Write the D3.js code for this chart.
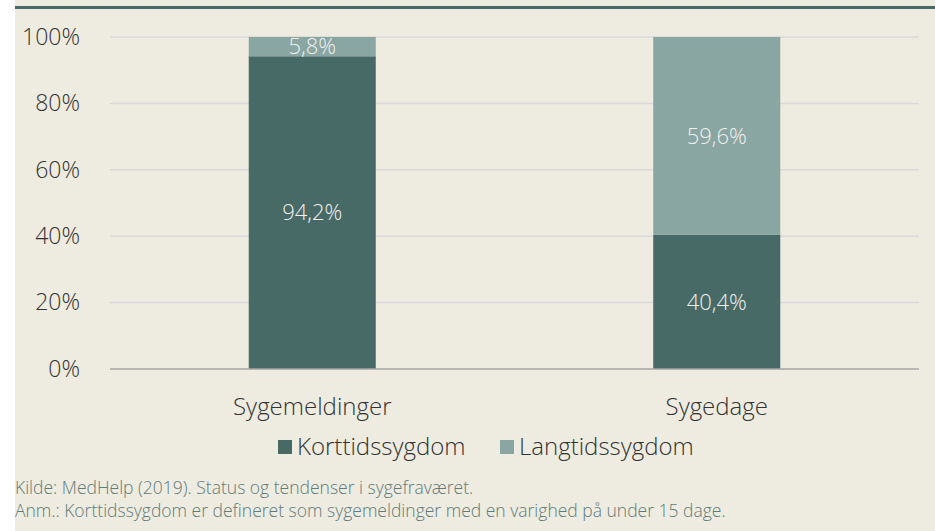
<!DOCTYPE html>
<html>
<head>
<meta charset="utf-8">
<script src="https://cdn.jsdelivr.net/npm/d3@7"></script>
<style>
  body { margin: 0; background: #fff; }
  svg { display: block; font-family: "Open Sans", "Noto Sans", sans-serif; font-weight: 300; }
</style>
</head>
<body>
<svg id="chart"></svg>
<script>
const categories = ['Sygemeldinger', 'Sygedage'];
const seriesNames = ['Korttidssygdom', 'Langtidssygdom'];
const korttid = [94.2, 40.4];
const langtid = [5.8, 59.6];
const yTicks = [0, 20, 40, 60, 80, 100];
const notes = [
  'Kilde: MedHelp (2019). Status og tendenser i sygefraværet.',
  'Anm.: Korttidssygdom er defineret som sygemeldinger med en varighed på under 15 dage.'
];

const size = { width: 935, height: 531 };
const margin = { left: 110, right: 16, top: 37, bottom: 162 };
const width = size.width - margin.left - margin.right;
const height = size.height - margin.top - margin.bottom;
const colors = ['#476a66', '#8aa6a3'];
const fmt = d => d.toFixed(1).replace('.', ',') + '%';

const svg = d3.select('#chart')
  .attr('width', size.width)
  .attr('height', size.height);

svg.append('rect')
  .attr('x', 15).attr('y', 0)
  .attr('width', size.width - 15).attr('height', size.height)
  .attr('fill', '#eeebe0');

svg.append('rect')
  .attr('x', 15).attr('y', 6)
  .attr('width', size.width - 15).attr('height', 3)
  .attr('fill', '#476a66');

const g = svg.append('g')
  .attr('transform', `translate(${margin.left},${margin.top})`);

const x = d3.scaleBand()
  .domain(categories)
  .range([0, width])
  .paddingInner(0.686)
  .paddingOuter(0.343);

const y = d3.scaleLinear()
  .domain([0, 100])
  .range([height, 0]);

// gridlines
g.append('g')
  .selectAll('line')
  .data(yTicks.filter(t => t > 0))
  .join('line')
  .attr('x1', 0).attr('x2', width)
  .attr('y1', d => y(d)).attr('y2', d => y(d))
  .attr('stroke', '#d9d9d9')
  .attr('stroke-width', 1.5);

const yAxis = d3.axisLeft(y)
  .tickValues(yTicks)
  .tickSize(0)
  .tickPadding(30)
  .tickFormat(d => d + '%');

g.append('g')
  .call(yAxis)
  .attr('font-family', null)
  .attr('font-size', 23)
  .call(a => a.select('.domain').remove())
  .selectAll('text')
  .attr('fill', '#333');

const stackData = categories.map((c, i) => ({ cat: c, k: korttid[i], l: langtid[i] }));
const stacked = d3.stack().keys(['k', 'l'])(stackData);

const layers = g.selectAll('g.layer')
  .data(stacked)
  .join('g')
  .attr('class', 'layer')
  .attr('fill', (d, i) => colors[i]);

layers.selectAll('rect')
  .data(d => d)
  .join('rect')
  .attr('x', d => x(d.data.cat))
  .attr('y', d => y(d[1]))
  .attr('width', x.bandwidth())
  .attr('height', d => y(d[0]) - y(d[1]));

layers.selectAll('text')
  .data(d => d)
  .join('text')
  .attr('x', d => x(d.data.cat) + x.bandwidth() / 2)
  .attr('y', d => (y(d[0]) + y(d[1])) / 2)
  .attr('dy', '0.35em')
  .attr('text-anchor', 'middle')
  .attr('font-size', 22)
  .attr('fill', '#f0f0ee')
  .text(d => fmt(d[1] - d[0]));

// zero line
g.append('line')
  .attr('x1', 0).attr('x2', width)
  .attr('y1', y(0)).attr('y2', y(0))
  .attr('stroke', '#a6a6a6')
  .attr('stroke-width', 1.5);

const xAxis = d3.axisBottom(x).tickSize(0).tickPadding(29);
g.append('g')
  .attr('transform', `translate(0,${height})`)
  .call(xAxis)
  .attr('font-family', null)
  .attr('font-size', 24)
  .call(a => a.select('.domain').remove())
  .selectAll('text')
  .attr('fill', '#333');

// legend
const legendX = [278, 500];
const legend = svg.append('g')
  .selectAll('g')
  .data(seriesNames)
  .join('g')
  .attr('transform', (d, i) => `translate(${legendX[i]},440)`);

legend.append('rect')
  .attr('width', 14).attr('height', 14)
  .attr('fill', (d, i) => colors[i]);

legend.append('text')
  .attr('x', 19).attr('y', 7)
  .attr('dy', '0.35em')
  .attr('font-size', 24)
  .attr('fill', '#333')
  .text(d => d);

svg.append('g')
  .selectAll('text')
  .data(notes)
  .join('text')
  .attr('x', 15)
  .attr('y', (d, i) => 494 + i * 23)
  .attr('font-size', 17.5)
  .attr('fill', '#5e7c79')
  .text(d => d);
</script>
</body>
</html>
